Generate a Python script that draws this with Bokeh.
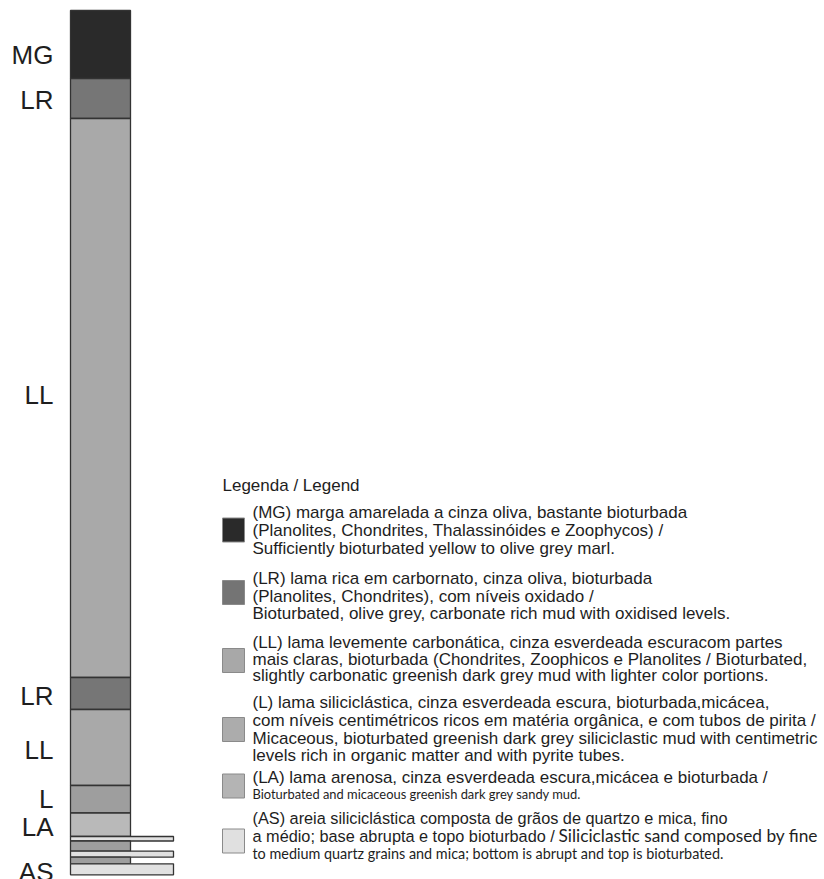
from bokeh.plotting import figure
from bokeh.models import Range1d, ColumnDataSource
from bokeh.core.properties import value
from bokeh.embed import file_html
from bokeh.resources import INLINE

# ---------------- data: stratigraphic column (depth units, top = 0) ----------------
layer_code   = ["MG", "LR", "LL", "LR", "LL", "L", "LA", "AS", "L", "AS", "L", "AS"]
layer_top    = [0, 68, 108, 667, 699, 775, 802.5, 826, 830.5, 840.7, 846.7, 853.3]
layer_bottom = [68, 108, 667, 699, 775, 802.5, 826, 830.5, 840.7, 846.7, 853.3, 864.3]

label_text  = ["MG", "LR", "LL", "LR", "LL", "L", "LA", "AS"]
label_depth = [44, 89, 384, 685, 739, 788, 816, 861]

# ---------------- data: legend ----------------
legend_title = "Legenda / Legend"
legend_codes = ["MG", "LR", "LL", "L", "LA", "AS"]
legend_lines = [
    ["(MG) marga amarelada a cinza oliva, bastante bioturbada",
     "(Planolites, Chondrites, Thalassinóides e Zoophycos) /",
     "Sufficiently bioturbated yellow to olive grey marl."],
    ["(LR) lama rica em carbornato, cinza oliva, bioturbada",
     "(Planolites, Chondrites), com níveis oxidado /",
     "Bioturbated, olive grey, carbonate rich mud with oxidised levels."],
    ["(LL) lama levemente carbonática, cinza esverdeada escuracom partes",
     "mais claras, bioturbada (Chondrites, Zoophicos e Planolites / Bioturbated,",
     "slightly carbonatic greenish dark grey mud with lighter color portions."],
    ["(L) lama siliciclástica, cinza esverdeada escura, bioturbada,micácea,",
     "com níveis centimétricos ricos em matéria orgânica, e com tubos de pirita /",
     "Micaceous, bioturbated greenish dark grey siliciclastic mud with centimetric",
     "levels rich in organic matter and with pyrite tubes."],
    ["(LA) lama arenosa, cinza esverdeada escura,micácea e bioturbada /",
     "Bioturbated and micaceous greenish dark grey sandy mud."],
    ["(AS) areia siliciclástica composta de grãos de quartzo e mica, fino",
     "a médio; base abrupta e topo bioturbado /",
     "to medium quartz grains and mica; bottom is abrupt and top is bioturbated."],
]
alt_suffix_text = "Siliciclastic sand  composed by fine"

fill_of = {"MG": "#2a2a2a", "LR": "#767676", "LL": "#a9a9a9",
           "L": "#9e9e9e", "LA": "#b9b9b9", "AS": "#e1e1e1"}
swatch_fill = {"MG": "#2a2a2a", "LR": "#747474", "LL": "#a8a8a8",
               "L": "#acacac", "LA": "#b4b4b4", "AS": "#e0e0e0"}

# ---------------- layout ----------------
W, H = 824, 879
p = figure(width=W, height=H, output_backend="svg", toolbar_location=None,
           x_range=Range1d(0, W), y_range=Range1d(869, -10),
           min_border=0, outline_line_color=None)
p.axis.visible = False
p.grid.visible = False
p.background_fill_color = "white"

COL_L, COL_R, WIDE_R = 70, 130, 173
rights = [WIDE_R if c == "AS" else COL_R for c in layer_code]
src = ColumnDataSource(dict(top=layer_top, bottom=layer_bottom,
                            left=[COL_L] * len(layer_code), right=rights,
                            color=[fill_of[c] for c in layer_code]))
p.quad(top="top", bottom="bottom", left="left", right="right", source=src,
       fill_color="color", line_color="#333333", line_width=1.3)

TXT = "#1e1e1e"
p.text(x=[53] * len(label_text), y=label_depth, text=label_text,
       text_font=value("Liberation Sans"), text_font_size="26px",
       text_color=TXT, text_align="right", text_baseline="middle")

# legend layout (page pixels -> depth frame)
def fy(page_y):
    return page_y - 10

TEXT_X = 252
ALT_X = 558
block_line_y = [
    [512, 530, 548],
    [578, 595.5, 613],
    [642, 658.5, 675],
    [702, 720, 738, 755],
    [777, 793.5],
    [817, 835, 853],
]
swatch_center = [529.5, 592, 660, 729, 785.5, 840.5]
# (font, size) per line; default Arial-like 17px
line_style = {(4, 1): ("Lato", "12.9px"),
              (5, 0): ("Liberation Sans", "16.3px"),
              (5, 1): ("Liberation Sans", "16.3px"),
              (5, 2): ("Lato", "14.4px")}

p.text(x=[222], y=[fy(485)], text=[legend_title],
       text_font=value("Liberation Sans"), text_font_size="17px",
       text_color=TXT, text_align="left", text_baseline="middle")

groups = {}
for i, lines in enumerate(legend_lines):
    for j, t in enumerate(lines):
        key = line_style.get((i, j), ("Liberation Sans", "17px"))
        g = groups.setdefault(key, ([], [], []))
        g[0].append(TEXT_X); g[1].append(fy(block_line_y[i][j])); g[2].append(t)
g = groups.setdefault(("Lato", "17.3px"), ([], [], []))
g[0].append(ALT_X); g[1].append(fy(block_line_y[5][1])); g[2].append(alt_suffix_text)

for (font, size), (xs, ys, ts) in groups.items():
    p.text(x=xs, y=ys, text=ts, text_font=value(font), text_font_size=size,
           text_color=TXT, text_align="left", text_baseline="middle")

sw = ColumnDataSource(dict(
    left=[222] * 6, right=[244] * 6,
    top=[fy(c) - 12 for c in swatch_center],
    bottom=[fy(c) + 12 for c in swatch_center],
    color=[swatch_fill[c] for c in legend_codes]))
p.quad(top="top", bottom="bottom", left="left", right="right", source=sw,
       fill_color="color", line_color="#8a8a8a", line_width=1)

open("out.html", "w").write(file_html(p, INLINE))
